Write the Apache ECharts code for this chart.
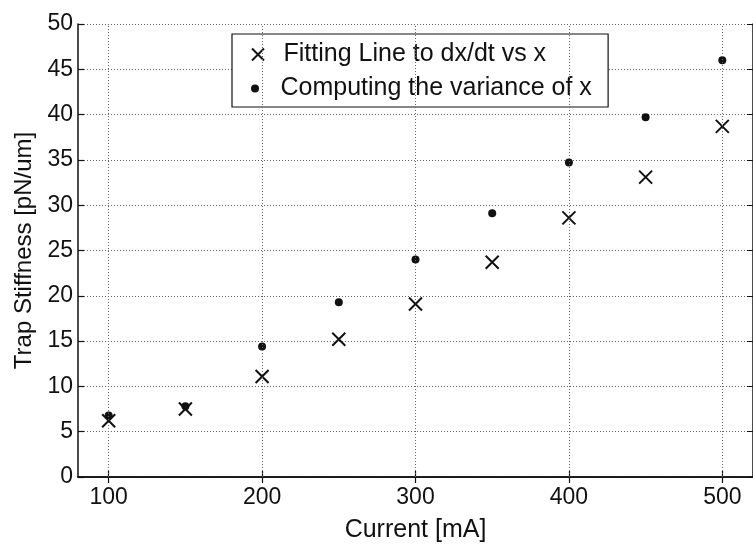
<!DOCTYPE html>
<html>
<head>
<meta charset="utf-8">
<script src="https://cdn.jsdelivr.net/npm/echarts@6/dist/echarts.min.js"></script>
<style>
html,body{margin:0;padding:0;background:#fff;}
#c{width:753px;height:548px;}
</style>
</head>
<body>
<div id="c"></div>
<script>
const currents = [100, 150, 200, 250, 300, 350, 400, 450, 500];
const fitStiffness = [6.2, 7.5, 11.1, 15.2, 19.1, 23.7, 28.6, 33.1, 38.7];
const varStiffness = [6.8, 7.8, 14.4, 19.3, 24.0, 29.1, 34.7, 39.7, 46.0];
const xTicks = [100, 200, 300, 400, 500];
const seriesNames = ['Fitting Line to dx/dt vs x', 'Computing the variance of x'];

const FONT = 'Liberation Sans, Arial, Helvetica, sans-serif';
const CROSS = 'path://M0,0L10,10M10,0L0,10';

const chart = echarts.init(document.getElementById('c'), null, {renderer: 'canvas'});
const fitData = currents.map((c, i) => [c, fitStiffness[i]]);
const varData = currents.map((c, i) => [c, varStiffness[i]]);

const axisLine = {show: true, lineStyle: {color: '#111', width: 1.5}};
chart.setOption({
  animation: false,
  backgroundColor: '#fff',
  grid: {left: 78, top: 24, width: 682, height: 458, show: false},
  xAxis: [{
    type: 'value', min: 80, max: 520, position: 'bottom',
    name: 'Current [mA]', nameLocation: 'middle', nameGap: 41,
    nameTextStyle: {fontFamily: FONT, fontSize: 25, color: '#111'},
    axisLine: axisLine,
    axisTick: {show: true, inside: true, length: 6, lineStyle: {color: '#111', width: 1.2},
      customValues: xTicks},
    axisLabel: {fontFamily: FONT, fontSize: 23, color: '#111', margin: 9,
      customValues: xTicks},
    splitLine: {show: false}
  }, {
    type: 'value', min: 80, max: 520, position: 'top',
    axisLine: axisLine,
    axisTick: {show: true, inside: true, length: 6, lineStyle: {color: '#111', width: 1.2},
      customValues: xTicks},
    axisLabel: {show: false},
    splitLine: {show: false}
  }],
  yAxis: [{
    type: 'value', min: 0, max: 50, interval: 5, position: 'left',
    name: 'Trap Stiffness [pN/um]', nameLocation: 'middle', nameGap: 42,
    nameTextStyle: {fontFamily: FONT, fontSize: 24, color: '#111'},
    axisLine: axisLine,
    axisTick: {show: true, inside: true, length: 6, lineStyle: {color: '#111', width: 1.2}},
    axisLabel: {fontFamily: FONT, fontSize: 23, color: '#111', margin: 5},
    splitLine: {show: true, lineStyle: {color: '#666', width: 1, type: [1, 2]}}
  }, {
    type: 'value', min: 0, max: 50, interval: 5, position: 'right',
    axisLine: axisLine,
    axisTick: {show: true, inside: true, length: 6},
    axisLabel: {show: false},
    splitLine: {show: false}
  }],
  legend: [{
    selectedMode: false,
    orient: 'vertical',
    left: 232, top: 34,
    padding: [8, 62, 40, 19],
    borderColor: '#111', borderWidth: 1.2, backgroundColor: '#fff',
    itemWidth: 41, itemHeight: 12, itemGap: 0,
    textStyle: {fontFamily: FONT, fontSize: 25, color: '#111'},
    data: [{name: seriesNames[0], icon: CROSS,
      itemStyle: {color: 'transparent', borderColor: '#111', borderWidth: 2}}]
  }, {
    selectedMode: false,
    orient: 'vertical',
    left: 232, top: 76,
    padding: [0, 0, 0, 19],
    itemWidth: 41, itemHeight: 8, itemGap: 0,
    textStyle: {fontFamily: FONT, fontSize: 25, color: '#111'},
    data: [{name: seriesNames[1], icon: 'circle',
      itemStyle: {color: '#111', borderWidth: 0}}]
  }],
  series: [{
    name: seriesNames[1], type: 'scatter', data: varData,
    symbol: 'circle', symbolSize: 8,
    itemStyle: {color: '#111', opacity: 1},
    z: 3
  }, {
    name: seriesNames[0], type: 'scatter', data: fitData,
    symbol: CROSS, symbolSize: 13,
    itemStyle: {color: 'transparent', borderColor: '#111', borderWidth: 2, opacity: 1},
    z: 4
  }, {
    type: 'line', data: [], silent: true,
    markLine: {
      symbol: 'none', silent: true, label: {show: false},
      lineStyle: {color: '#666', width: 1, type: [1, 2]},
      data: xTicks.map(v => ({xAxis: v}))
    },
    z: 1
  }]
});
</script>
</body>
</html>
